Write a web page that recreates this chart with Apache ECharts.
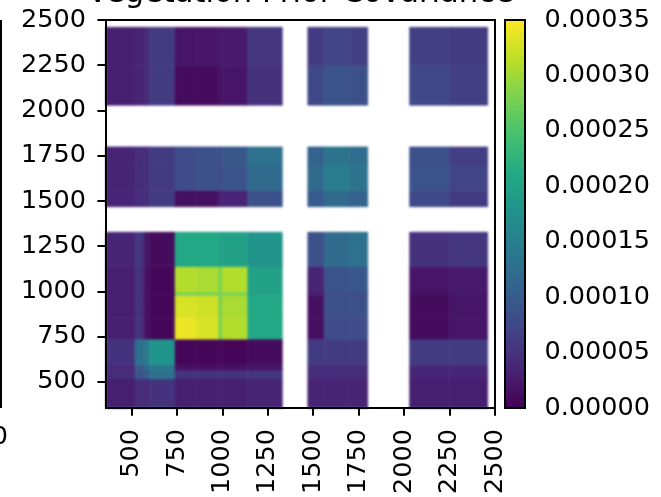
<!DOCTYPE html>
<html>
<head>
<meta charset="utf-8">
<script src="https://cdn.jsdelivr.net/npm/echarts@6/dist/echarts.min.js"></script>
<style>
  html, body { margin: 0; padding: 0; background: #fff; }
  #wrap { position: relative; width: 661px; height: 497px; overflow: hidden; background: #fff; }
  #heat, #chart { position: absolute; left: 0; top: 0; width: 661px; height: 497px; }
  /* the covariance image is resampled smoothly, like an interpolated raster */
  #heat { filter: blur(1.3px); }
</style>
</head>
<body>
<div id="wrap">
  <div id="heat"></div>
  <div id="chart"></div>
</div>
<script>
// Wavelength segments (nm); the water-vapour bands between them carry no data.
const segStart = [360, 520, 570, 600, 740, 860, 980, 1000, 1140, 1470, 1560, 1700, 2030, 2250];
const segEnd   = [520, 570, 600, 740, 860, 980, 1000, 1140, 1330, 1560, 1700, 1800, 2250, 2460];

// Prior covariance between segments, in units of 1e-5 (symmetric).
const covE5 = [
  [3,   4.5, 4,   5,   3,   3,    3,   3,    3.5, 3.5, 3.5,  3.5,  3,   3  ],
  [4.5, 9,   10,  13,  5,   5,    5,   5,    5.5, 4.5, 4.5,  4.5,  3.5, 3.5],
  [4,   10,  12,  14,  1.5, 1.5,  1.5, 1.5,  2,   4.5, 4.5,  4.5,  4,   4  ],
  [5,   13,  14,  18,  0.5, 0.5,  0.5, 0.5,  1,   6,   6,    6,    6,   6  ],
  [3,   5,   1.5, 0.5, 34,  33,   28,  31,   21,  1.5, 8,    8,    1,   2  ],
  [3,   5,   1.5, 0.5, 33,  32.5, 28,  30.5, 21,  1.5, 8.5,  8.5,  1,   2  ],
  [3,   5,   1.5, 0.5, 28,  28,   28,  28,   20,  3,   8,    8,    1.5, 2  ],
  [3,   5,   1.5, 0.5, 31,  30.5, 28,  31,   20,  3.5, 9,    9.5,  2,   2.5],
  [3.5, 5.5, 2,   1,   21,  21,   20,  20,   18,  8.5, 12,   13,   5,   5.5],
  [3.5, 4.5, 4.5, 6,   1.5, 1.5,  3,   3.5,  8.5, 10,  12,   11,   7.5, 6  ],
  [3.5, 4.5, 4.5, 6,   8,   8.5,  8,   9,    12,  12,  14.5, 13.5, 9,   7  ],
  [3.5, 4.5, 4.5, 6,   8,   8.5,  8,   9.5,  13,  11,  13.5, 12.5, 8.5, 6.5],
  [3,   3.5, 4,   6,   1,   1,    1.5, 2,    5,   7.5, 9,    8.5,  7.5, 6.5],
  [3,   3.5, 4,   6,   2,   2,    2,   2.5,  5.5, 6,   7,    6.5,  6.5, 6  ]
];

const wavelengthTicks = [500, 750, 1000, 1250, 1500, 1750, 2000, 2250, 2500];
const colorbarMax = 35;      // 0.00035
const colorbarStep = 5;      // 0.00005

const viridis = ['#440154', '#482475', '#414487', '#355f8d', '#2a788e', '#21918c',
                 '#22a884', '#44bf70', '#7ad151', '#bddf26', '#fde725'];

const FONT = '"DejaVu Sans", "Liberation Sans", sans-serif';
const TICK_FONT = 25.5;
const TITLE_FONT = 30.6;

// One rectangle per segment pair: [xStart, xEnd, yStart, yEnd, value]
const cells = [];
for (let i = 0; i < segStart.length; i++) {
  for (let j = 0; j < segStart.length; j++) {
    cells.push([segStart[j], segEnd[j], segStart[i], segEnd[i], covE5[i][j]]);
  }
}

const plotGrid = { left: 106, top: 20, width: 389, height: 388 };

// --- covariance image layer ---
const heat = echarts.init(document.getElementById('heat'), null, { renderer: 'canvas' });
heat.setOption({
  animation: false,
  grid: plotGrid,
  xAxis: { type: 'value', min: 360, max: 2500, show: false },
  yAxis: { type: 'value', min: 360, max: 2500, show: false },
  visualMap: {
    show: false, type: 'continuous', min: 0, max: colorbarMax, dimension: 4, seriesIndex: 0,
    inRange: { color: viridis }
  },
  series: [{
    type: 'custom',
    silent: true,
    data: cells,
    encode: { x: [0, 1], y: [2, 3] },
    renderItem: function (params, api) {
      const p0 = api.coord([api.value(0), api.value(3)]);
      const p1 = api.coord([api.value(1), api.value(2)]);
      const color = api.visual('color');
      return {
        type: 'rect',
        shape: { x: p0[0], y: p0[1], width: p1[0] - p0[0], height: p1[1] - p0[1] },
        style: { fill: color, stroke: color, lineWidth: 0.6 }
      };
    }
  }]
});

// --- axes, colorbar and labels layer ---
const chart = echarts.init(document.getElementById('chart'), null, { renderer: 'canvas' });
const tickStyle = { color: '#000', width: 2 };
const labelStyle = { color: '#000', fontSize: TICK_FONT, fontFamily: FONT };

chart.setOption({
  animation: false,
  backgroundColor: 'transparent',
  grid: [
    plotGrid,
    { left: 505, top: 20, width: 20, height: 388 }
  ],
  xAxis: [
    {
      gridIndex: 0, type: 'value', min: 360, max: 2500,
      axisLine: { show: false }, splitLine: { show: false },
      axisTick: { show: true, customValues: wavelengthTicks, length: 8.6, lineStyle: tickStyle },
      axisLabel: Object.assign({
        customValues: wavelengthTicks, rotate: 90, margin: 22, formatter: v => String(v)
      }, labelStyle)
    },
    { gridIndex: 1, type: 'value', min: 0, max: 1, show: false }
  ],
  yAxis: [
    {
      gridIndex: 0, type: 'value', min: 360, max: 2500,
      axisLine: { show: false }, splitLine: { show: false },
      axisTick: { show: true, customValues: wavelengthTicks, length: 8.6, lineStyle: tickStyle },
      axisLabel: Object.assign({
        customValues: wavelengthTicks, margin: 20, formatter: v => String(v)
      }, labelStyle)
    },
    {
      gridIndex: 1, type: 'value', position: 'right', min: 0, max: colorbarMax, interval: colorbarStep,
      axisLine: { show: false }, splitLine: { show: false },
      axisTick: { show: true, length: 8.6, lineStyle: tickStyle },
      axisLabel: Object.assign({
        margin: 19.5,
        formatter: v => (v * 1e-5).toFixed(5)
      }, labelStyle)
    }
  ],
  visualMap: {
    type: 'continuous',
    min: 0, max: colorbarMax,
    calculable: false,
    hoverLink: false,
    left: 505, top: 20,
    padding: 0,
    itemWidth: 20, itemHeight: 388,
    text: null,
    showLabel: false,
    inRange: { color: viridis }
  },
  graphic: [
    { type: 'rect', z: 100, silent: true,
      shape: { x: 106, y: 20, width: 389, height: 388 },
      style: { fill: null, stroke: '#000', lineWidth: 2 } },
    { type: 'rect', z: 100, silent: true,
      shape: { x: 505, y: 20, width: 20, height: 388 },
      style: { fill: null, stroke: '#000', lineWidth: 2 } },
    { type: 'text', z: 100, silent: true, x: 300.5, y: -5.5,
      style: { text: 'Vegetation Prior Covariance', font: TITLE_FONT + 'px ' + FONT, fill: '#000',
               align: 'center', verticalAlign: 'middle' } },
    { type: 'line', z: 100, silent: true,
      shape: { x1: 1, y1: 20, x2: 1, y2: 408 },
      style: { stroke: '#000', lineWidth: 2 } },
    { type: 'text', z: 100, silent: true, x: 8, y: 437,
      style: { text: '2500', font: TICK_FONT + 'px ' + FONT, fill: '#000',
               align: 'right', verticalAlign: 'middle' } }
  ]
});
</script>
</body>
</html>
